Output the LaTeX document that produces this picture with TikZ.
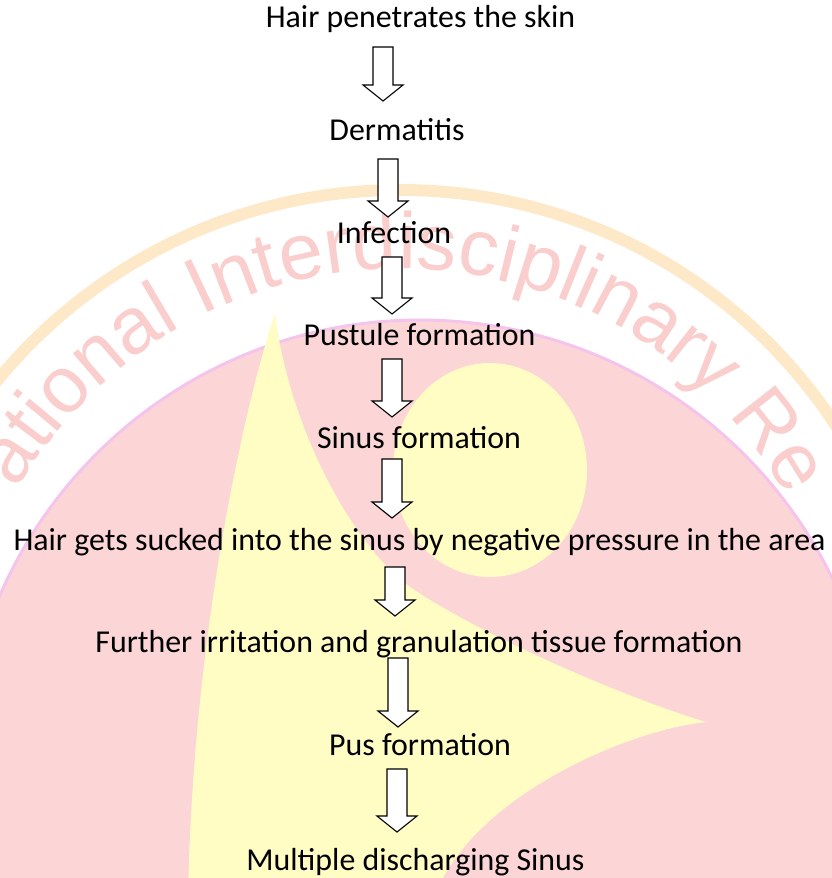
\documentclass[tikz,border=0pt]{standalone}
\usepackage{fontspec}
\setmainfont{Carlito}
\newfontfamily\wmfont{Liberation Sans}
\usetikzlibrary{calc,decorations.text}

\definecolor{wmpink}{RGB}{252,214,214}
\definecolor{wmlilac}{RGB}{244,196,236}
\definecolor{wmyellow}{RGB}{255,252,196}
\definecolor{wmorange}{RGB}{253,232,200}
\definecolor{wmtext}{RGB}{249,206,204}

% hollow down arrow: from node, to node, x, gap under #1, gap over #2
\newcommand{\flowarrow}[5]{%
  \draw[blockarrow] let \p1=(#1.base), \p2=(#2.base) in
    ({#3bp-10bp},{\y1-#4bp}) -- ({#3bp-10bp},{\y2+#5bp+16bp}) -- ({#3bp-20bp},{\y2+#5bp+16bp})
    -- ({#3bp},{\y2+#5bp}) -- ({#3bp+20bp},{\y2+#5bp+16bp}) -- ({#3bp+10bp},{\y2+#5bp+16bp})
    -- ({#3bp+10bp},{\y1-#4bp}) -- cycle;}

\begin{document}
\begin{tikzpicture}[x=1bp, y=-1bp,
    stage/.style={anchor=base, inner sep=0pt, font=\fontsize{32}{38}\selectfont},
    blockarrow/.style={draw=black, fill=white, line width=1.1pt, line join=miter}]
    \useasboundingbox (0,0) rectangle (832,878);
    \begin{scope}
    \clip (0,0) rectangle (832,878);
    %anello arancio
    \draw[wmorange, line width=12pt] (400,711) circle [radius=521];
    %disco rosa
    \fill[wmpink, draw=wmlilac, line width=3pt] (420,778) circle [radius=458];
    %testa gialla
    \fill[wmyellow] (490,470) ellipse [x radius=97, y radius=107];
    %corpo giallo
    \fill[wmyellow] (275,313) .. controls (285,400) and (330,510) .. (393,573)
        .. controls (430,610) and (600,690) .. (706,722)
        .. controls (630,730) and (490,790) .. (443,878) -- (435,900) -- (188,900)
        .. controls (192,650) and (240,420) .. (275,313) -- cycle;
    %scritta
    \path[decorate, decoration={text along path, text align=left,
        text={|\wmfont\fontsize{80}{80}\selectfont\color{wmtext}|ational Interdisciplinary Re}}]
        (400,711) ++(-150:442) arc [start angle=-150, end angle=-8, radius=442];
    \end{scope}
    %%%%%%%%%%%%%%%%%%%%%%%%%%%%%%%%%%%%%%%%%%%%%%%%%%%%%%%%%%%%%%%%%%%%%%%%%%
    %passi
    \node[stage] (hair) at (420.5,27) {Hair penetrates the skin};
    \node[stage] (derm) at (397,140) {Dermatitis};
    \node[stage] (infec) at (394,243) {Infection};
    \node[stage] (pust) at (419.5,345) {Pustule formation};
    \node[stage] (sinus) at (419,448) {Sinus formation};
    \node[stage] (sucked) at (419.5,550) {Hair gets sucked into the sinus by negative pressure in the area};
    \node[stage] (further) at (419,652) {Further irritation and granulation tissue formation};
    \node[stage] (pus) at (420,755) {Pus formation};
    \node[stage] (multi) at (415.5,870) {Multiple discharging Sinus};
    %%%%%%%%%%%%%%%%%%%%%%%%%%%%%%%%%%%%%%%%%%%%%%%%%%%%%%%%%%%%%%%%%%%%%%%%%%
    %frecce
    \flowarrow{hair}{derm}{383}{20}{39}
    \flowarrow{derm}{infec}{388}{19}{26}
    \flowarrow{infec}{pust}{392}{14}{31}
    \flowarrow{pust}{sinus}{392}{14}{31}
    \flowarrow{sinus}{sucked}{392}{11}{32}
    \flowarrow{sucked}{further}{395}{17}{36}
    \flowarrow{further}{pus}{398}{6}{28}
    \flowarrow{pus}{multi}{397}{14}{38}
\end{tikzpicture}
\end{document}
